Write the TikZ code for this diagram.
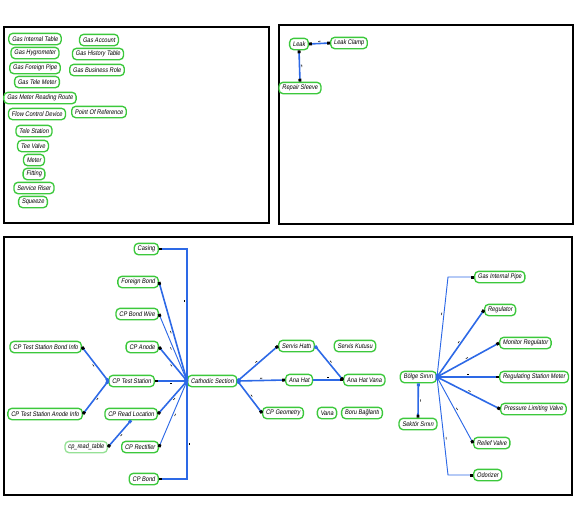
\documentclass[tikz,border=0pt]{standalone}
\usepackage{fontspec}
\setmainfont{Liberation Sans}
\newfontfamily\entfont[FakeStretch=0.85,FakeSlant=0.15]{Liberation Sans}
\usetikzlibrary{arrows.meta,decorations.markings}
\definecolor{entgreen}{RGB}{60,200,60}
\definecolor{palegreen}{RGB}{150,225,150}
\definecolor{linkblue}{RGB}{45,105,230}
\tikzset{every picture/.style={line width=0.75pt}}
\tikzset{
  ent/.style={draw=entgreen, line width=1pt, rounded corners=3pt, fill=white,
    font=\entfont\fontsize{5}{6}\selectfont, inner xsep=2.4pt, inner ysep=0pt, minimum height=8.5pt},
  link/.style={draw=linkblue, line width=1.2pt,
    {Square[length=2.2pt,width=2.2pt]}-{Square[black,length=2.2pt,width=2.2pt]},
    postaction={decorate,decoration={markings,mark=at position 0.5 with {\fill[black] (-0.9pt,1.5pt) rectangle (0.9pt,1.9pt);}}}},
  thinlink/.style={link, line width=0.7pt},
  panel/.style={draw=black, line width=1.1pt}
}
\begin{document}
\begin{tikzpicture}[x=0.75pt,y=0.75pt,yscale=-1]
\useasboundingbox (0,0) rectangle (578,504);
%Shape: Rectangle [panels]
\draw[panel] (4,27) rectangle (269,223);
\draw[panel] (279,25) rectangle (573,224);
\draw[panel] (4,237) rectangle (572,495);
%Top left: loose entities
\node[ent] (git) at (35,39) {Gas Internal Table};
\node[ent] (ghyg) at (35,53) {Gas Hygrometer};
\node[ent] (gfp) at (35,68) {Gas Foreign Pipe};
\node[ent] (gtm) at (37,82) {Gas Tele Meter};
\node[ent] (gmrr) at (40,98) {Gas Meter Reading Route};
\node[ent] (fcd) at (37,114) {Flow Control Device};
\node[ent] (tst) at (34,131) {Tele Station};
\node[ent] (tv) at (33,146) {Tee Valve};
\node[ent] (mtr) at (34,160) {Meter};
\node[ent] (fit) at (34,174) {Fitting};
\node[ent] (sr) at (34,188) {Service Riser};
\node[ent] (sqz) at (33,202) {Squeeze};
\node[ent] (gacc) at (99,40) {Gas Account};
\node[ent] (ght) at (98,54) {Gas History Table};
\node[ent] (gbr) at (97,70) {Gas Business Role};
\node[ent] (por) at (99,112) {Point Of Reference};
%Top right: leak
\node[ent] (leak) at (299,44) {Leak};
\node[ent] (lclamp) at (349,43) {Leak Clamp};
\node[ent] (rsleeve) at (300,88) {Repair Sleeve};
\draw[link, {Square[black,length=2.2pt,width=2.2pt]}-{Square[black,length=2.2pt,width=2.2pt]}] (leak.east) -- (lclamp.west);
\draw[link, {Square[black,length=2.2pt,width=2.2pt]}-{Square[black,length=2.2pt,width=2.2pt]}] (leak.south) -- (rsleeve.north);
%Bottom: cathodic protection
\node[ent, anchor=east] (casing) at (159,249) {Casing};
\node[ent, anchor=east] (fbond) at (159,282) {Foreign Bond};
\node[ent, anchor=east] (cpbw) at (159,314) {CP Bond Wire};
\node[ent, anchor=east] (cpan) at (159,347) {CP Anode};
\node[ent, anchor=east] (cptsb) at (82,347) {CP Test Station Bond Info};
\node[ent, anchor=east] (cpts) at (155,381) {CP Test Station};
\node[ent, anchor=east] (cptsa) at (83,414) {CP Test Station Anode Info};
\node[ent, anchor=east] (cprl) at (158,414) {CP Read Location};
\node[ent, anchor=east, draw=palegreen] (cprt) at (108,447) {cp\_read\_table};
\node[ent, anchor=east] (cprec) at (159,447) {CP Rectifier};
\node[ent, anchor=east] (cpbond) at (159,479) {CP Bond};
\node[ent, anchor=west] (cs) at (187,381) {Cathodic Section};
\draw[link] (cs.west) |- (casing.east);
\draw[link] (cs.west) -- (fbond.east);
\draw[thinlink] (cs.west) -- (cpbw.east);
\draw[link] (cs.west) -- (cpan.east);
\draw[link] (cs.west) -- (cpts.east);
\draw[link] (cs.west) -- (cprl.east);
\draw[thinlink] (cs.west) -- (cprec.east);
\draw[link] (cs.west) |- (cpbond.east);
\draw[link] (cpts.west) -- (cptsb.east);
\draw[link] (cpts.west) -- (cptsa.east);
\draw[link] (cprl.south) -- (cprt.east);
%Bottom middle: lines
\node[ent, anchor=west] (sh) at (278,346) {Servis Hattı};
\node[ent] (sk) at (355,346) {Servis Kutusu};
\node[ent, anchor=west] (ah) at (285,380) {Ana Hat};
\node[ent, anchor=west] (ahv) at (343,380) {Ana Hat Vana};
\node[ent, anchor=west] (cpg) at (262,413) {CP Geometry};
\node[ent] (vana) at (327,413) {Vana};
\node[ent] (boru) at (362,413) {Boru Bağlantı};
\draw[link] (cs.east) -- (sh.west);
\draw[link] (cs.east) -- (ah.west);
\draw[link] (cs.east) -- (cpg.west);
\draw[link] (sh.east) -- (ahv.west);
\draw[link] (ah.east) -- (ahv.west);
%Bottom right: region
\node[ent, anchor=east] (bolge) at (437,377) {Bölge Sınırı};
\node[ent] (sektor) at (418,424) {Sektör Sınırı};
\node[ent, anchor=west] (gip) at (474,277) {Gas Internal Pipe};
\node[ent, anchor=west] (reg) at (484,310) {Regulator};
\node[ent, anchor=west] (mreg) at (499,343) {Monitor Regulator};
\node[ent, anchor=west] (rsm) at (499,377) {Regulating Station Meter};
\node[ent, anchor=west] (plv) at (500,409) {Pressure Limiting Valve};
\node[ent, anchor=west] (rv) at (473,443) {Relief Valve};
\node[ent, anchor=west] (odor) at (473,475) {Odorizer};
\coordinate (gipbend) at (448,277);
\coordinate (odorbend) at (448,475);
\draw[thinlink] (bolge.east) -- (gipbend) -- (gip.west);
\draw[link] (bolge.east) -- (reg.west);
\draw[link] (bolge.east) -- (mreg.west);
\draw[link] (bolge.east) -- (rsm.west);
\draw[link] (bolge.east) -- (plv.west);
\draw[thinlink] (bolge.east) -- (rv.west);
\draw[thinlink] (bolge.east) -- (odorbend) -- (odor.west);
\draw[link] (bolge.south) -- (sektor.north);
\end{tikzpicture}
\end{document}
